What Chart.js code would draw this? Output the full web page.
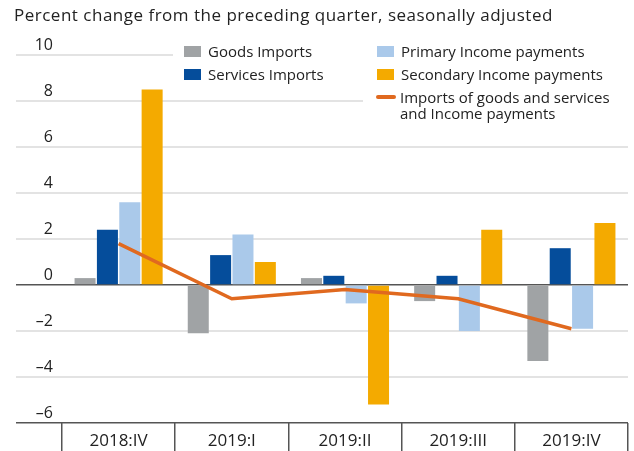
<!DOCTYPE html>
<html>
<head>
<meta charset="utf-8">
<script src="https://cdn.jsdelivr.net/npm/chart.js@4.4.1/dist/chart.umd.min.js"></script>
<style>
  body { margin: 0; background: #fff; }
  #wrap { position: relative; width: 634px; height: 451px; font-family: 'Open Sans', sans-serif; color: #222; }
  #chart { position: absolute; left: 0; top: 0; }
  #title { position: absolute; left: 14px; top: 4px; font-size: 17px; letter-spacing: 0.5px; line-height: 22px; white-space: nowrap; }
  .legend-bg { position: absolute; background: #fff; }
  .legend-item { position: absolute; font-size: 15px; line-height: 16px; white-space: nowrap; }
  .swatch { position: absolute; left: 0; top: 2.5px; width: 17px; height: 11px; }
  .swatch.line { top: 6px; width: 20px; height: 4px; border-radius: 2px; }
  .legend-item span.text { position: absolute; left: 24px; top: 0; }
</style>
</head>
<body>
<div id="wrap">
  <canvas id="chart" width="634" height="451"></canvas>
  <div id="title">Percent change from the preceding quarter, seasonally adjusted</div>
  <div class="legend-bg" style="left:173px;top:38px;width:461px;height:48px"></div>
  <div class="legend-bg" style="left:363px;top:38px;width:271px;height:86px"></div>
  <div id="legend"></div>
</div>
<script>
const quarters = ['2018:IV', '2019:I', '2019:II', '2019:III', '2019:IV'];
const goodsImports    = [0.3, -2.1, 0.3, -0.7, -3.3];
const servicesImports = [2.4, 1.3, 0.4, 0.4, 1.6];
const primaryIncome   = [3.6, 2.2, -0.8, -2.0, -1.9];
const secondaryIncome = [8.5, 1.0, -5.2, 2.4, 2.7];
const totalImports    = [1.8, -0.6, -0.2, -0.6, -1.9];

const yMin = -6, yMax = 10, yStep = 2;

const GRAY = '#a0a3a5';
const NAVY = '#054d9b';
const SKY = '#aac9ea';
const GOLD = '#f4aa00';
const ORANGE = '#e0691f';
const GRID = '#e3e3e3';
const AXIS = '#555555';
const TEXT = '#222222';
const FONT = "'Open Sans', sans-serif";

const ctx = document.getElementById('chart').getContext('2d');
const chart = new Chart(ctx, {
  type: 'bar',
  data: {
    labels: quarters,
    datasets: [
      { label: 'Goods Imports', data: goodsImports, backgroundColor: GRAY, order: 1 },
      { label: 'Services Imports', data: servicesImports, backgroundColor: NAVY, order: 1 },
      { label: 'Primary Income payments', data: primaryIncome, backgroundColor: SKY, order: 1 },
      { label: 'Secondary Income payments', data: secondaryIncome, backgroundColor: GOLD, order: 1 },
      {
        type: 'line',
        label: 'Imports of goods and services\nand Income payments',
        data: totalImports,
        borderColor: ORANGE,
        borderWidth: 3.5,
        pointRadius: 0,
        tension: 0,
        fill: false,
        order: 0
      }
    ]
  },
  options: {
    responsive: false,
    animation: false,
    layout: { padding: { left: 16, right: 6, top: 55, bottom: 0 } },
    datasets: { bar: { categoryPercentage: 0.79, barPercentage: 0.94 } },
    plugins: {
      legend: { display: false },
      tooltip: { enabled: false }
    },
    scales: {
      x: {
        grid: {
          offset: true,
          drawOnChartArea: false,
          drawTicks: true,
          tickLength: 30,
          color: AXIS,
          lineWidth: 1.5
        },
        border: { display: false },
        ticks: {
          padding: -22,
          color: TEXT,
          font: { family: FONT, size: 17 },
          maxRotation: 0,
          autoSkip: false
        },
        afterFit: s => { s.height = 28; }
      },
      y: {
        min: yMin,
        max: yMax,
        grid: {
          // zero line and bottom line are darker than the rest
          color: c => (c.tick && (c.tick.value === 0 || c.tick.value === yMin)) ? AXIS : GRID,
          lineWidth: c => (c.tick && (c.tick.value === 0 || c.tick.value === yMin)) ? 1.5 : 2,
          drawTicks: true,
          tickLength: 46
        },
        border: { display: false },
        ticks: {
          stepSize: yStep,
          padding: -37,
          labelOffset: -10,
          color: TEXT,
          font: { family: FONT, size: 16 },
          callback: v => v < 0 ? '\u2013' + Math.abs(v) : String(v)
        },
        afterFit: s => { s.width = 46; }
      }
    }
  }
});

// HTML legend built from the chart's datasets
const legendPos = [
  { left: 184, top: 43 },
  { left: 184, top: 66 },
  { left: 377, top: 43 },
  { left: 377, top: 66 },
  { left: 376, top: 89 }
];
const legend = document.getElementById('legend');
chart.data.datasets.forEach((ds, i) => {
  const item = document.createElement('div');
  item.className = 'legend-item';
  item.style.left = legendPos[i].left + 'px';
  item.style.top = legendPos[i].top + 'px';
  const sw = document.createElement('div');
  sw.className = 'swatch' + (ds.type === 'line' ? ' line' : '');
  sw.style.background = ds.type === 'line' ? ds.borderColor : ds.backgroundColor;
  const txt = document.createElement('span');
  txt.className = 'text';
  txt.innerHTML = ds.label.replace('\n', '<br>');
  item.appendChild(sw);
  item.appendChild(txt);
  legend.appendChild(item);
});
</script>
</body>
</html>
